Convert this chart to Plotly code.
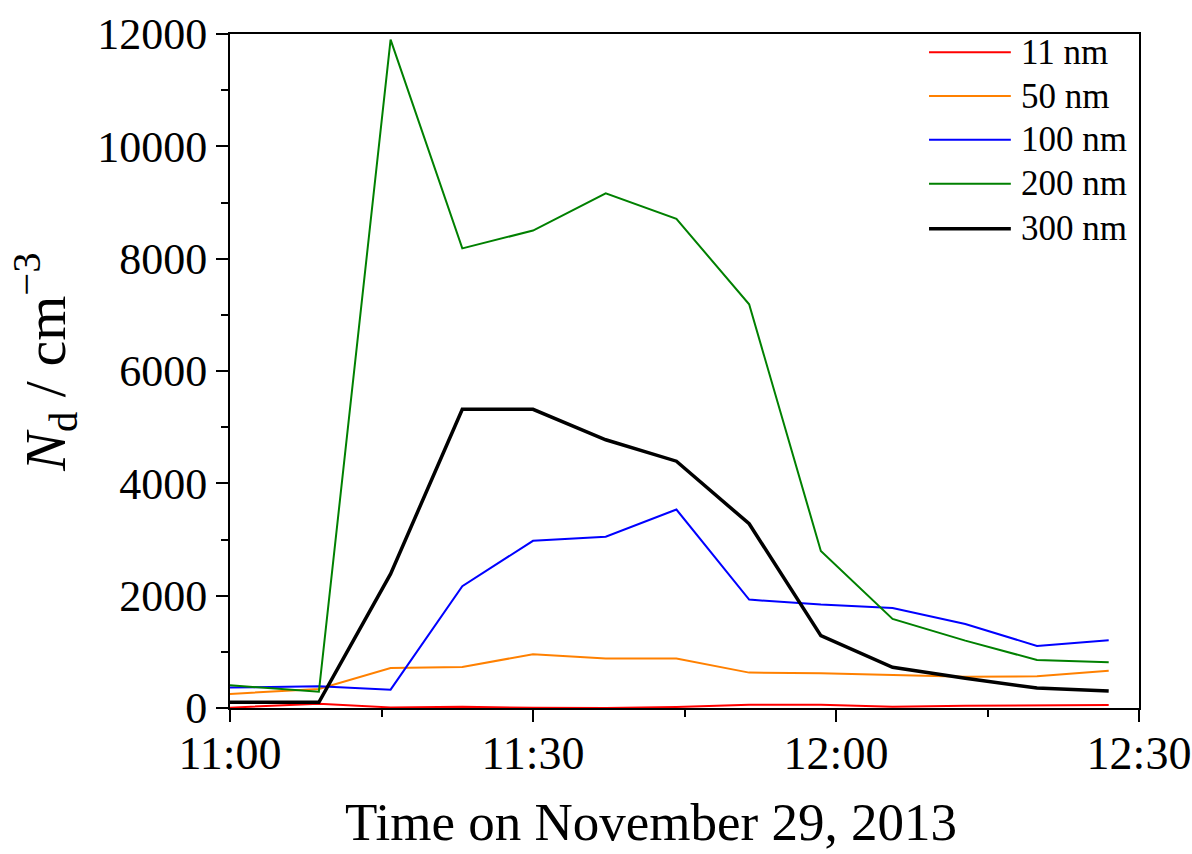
import plotly.graph_objects as go

times = ["2013-11-29 11:00:00", "2013-11-29 11:08:48", "2013-11-29 11:15:54",
         "2013-11-29 11:23:00", "2013-11-29 11:30:00", "2013-11-29 11:37:12",
         "2013-11-29 11:44:12", "2013-11-29 11:51:24", "2013-11-29 11:58:30",
         "2013-11-29 12:05:36", "2013-11-29 12:12:48", "2013-11-29 12:19:54",
         "2013-11-29 12:27:00"]

n11 = [6, 77, 10, 24, 3, 2, 18, 59, 59, 24, 42, 48, 53]
n50 = [250, 339, 713, 731, 957, 880, 880, 630, 618, 588, 558, 564, 665]
n100 = [363, 386, 327, 2170, 2977, 3049, 3534, 1930, 1841, 1782, 1497, 1105, 1206]
n200 = [404, 291, 11900, 8183, 8501, 9162, 8708, 7188, 2795, 1586, 1200, 855, 814]
n300 = [101, 101, 2388, 5317, 5317, 4776, 4394, 3280, 1289, 725, 529, 356, 303]

labels = ["11 nm", "50 nm", "100 nm", "200 nm", "300 nm"]
series = [n11, n50, n100, n200, n300]
colors = ["#FF0000", "#FF8000", "#0000FF", "#008000", "#000000"]
widths = [2, 2, 2, 2, 3.5]

x_tickvals = ["2013-11-29 11:00", "2013-11-29 11:30", "2013-11-29 12:00", "2013-11-29 12:30"]
x_ticktext = ["11:00", "11:30", "12:00", "12:30"]
y_tickvals = [0, 2000, 4000, 6000, 8000, 10000, 12000]
y_ticktext = ["0", "2000", "4000", "6000", "8000", "10000", "12000"]

FONT = "Liberation Serif, Times New Roman, serif"

fig = go.Figure()
for name, ys, c, w in zip(labels, series, colors, widths):
    fig.add_trace(go.Scatter(x=times, y=ys, mode="lines", name=name,
                             line=dict(color=c, width=w), showlegend=False))

# custom legend (long line samples as in the reference)
leg_y = [0.973, 0.908, 0.843, 0.778, 0.711]
shapes = []
annotations = []
for name, c, w, yy in zip(labels, colors, widths, leg_y):
    shapes.append(dict(type="line", xref="paper", yref="paper", x0=0.769, x1=0.859,
                       y0=yy, y1=yy, line=dict(color=c, width=w)))
    annotations.append(dict(xref="paper", yref="paper", x=0.868, y=yy, text=name,
                            showarrow=False, xanchor="left", yanchor="middle",
                            font=dict(family=FONT, size=35, color="black")))

annotations.append(dict(xref="paper", yref="paper", x=0.463, y=-0.169,
                        text="Time on November 29, 2013", showarrow=False,
                        xanchor="center", yanchor="middle",
                        font=dict(family=FONT, size=53, color="black")))
annotations.append(dict(xref="paper", yref="paper", x=-0.203, y=0.513,
                        text="<i>N</i><sub>d</sub> / cm<sup>−3</sup>", showarrow=False,
                        textangle=-90, xanchor="center", yanchor="middle",
                        font=dict(family=FONT, size=58, color="black")))

fig.update_layout(
    width=1192, height=854,
    margin=dict(l=230, r=53, t=34, b=146, autoexpand=False),
    paper_bgcolor="white", plot_bgcolor="white",
    font=dict(family=FONT, color="black"),
    shapes=shapes, annotations=annotations,
)
fig.update_xaxes(
    type="date", range=["2013-11-29 11:00", "2013-11-29 12:30"],
    tickmode="array", tickvals=x_tickvals, ticktext=x_ticktext,
    ticks="outside", ticklen=12, tickwidth=2, tickcolor="black",
    ticklabelstandoff=-8, automargin=False,
    tickfont=dict(family=FONT, size=46, color="black"),
    minor=dict(dtick=15 * 60 * 1000, tick0="2013-11-29 11:00", ticks="outside",
               ticklen=7, tickwidth=2, tickcolor="black", showgrid=False),
    showline=True, linecolor="black", linewidth=2, mirror=True,
    showgrid=False, zeroline=False,
)
fig.update_yaxes(
    range=[0, 12000], tickmode="array", tickvals=y_tickvals, ticktext=y_ticktext,
    ticks="outside", ticklen=12, tickwidth=2, tickcolor="black", automargin=False,
    tickfont=dict(family=FONT, size=44, color="black"),
    minor=dict(dtick=1000, ticks="outside", ticklen=7, tickwidth=2,
               tickcolor="black", showgrid=False),
    showline=True, linecolor="black", linewidth=2, mirror=True,
    showgrid=False, zeroline=False,
)

fig.write_html("out.html")
